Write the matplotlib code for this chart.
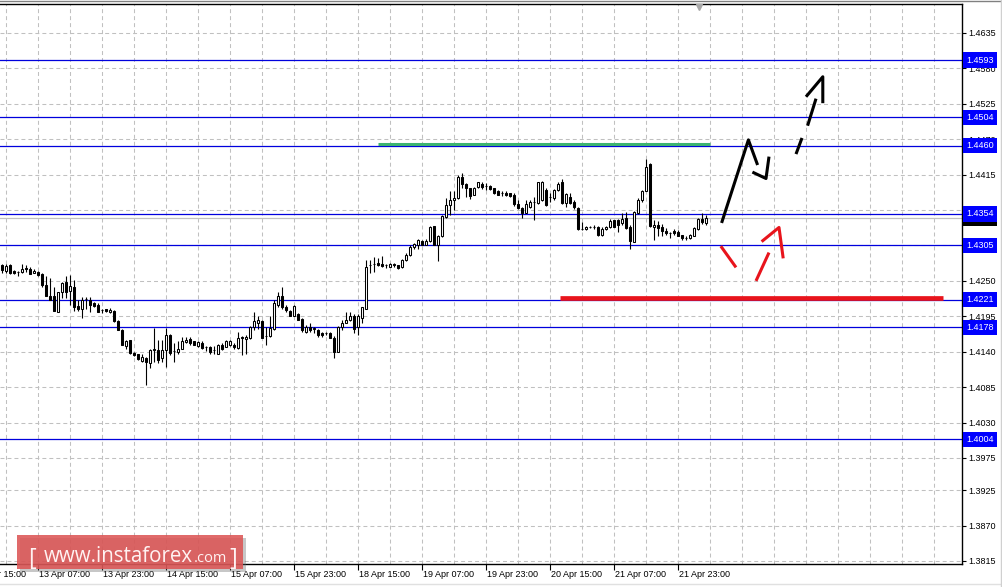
import numpy as np
import matplotlib
matplotlib.use('Agg')
import matplotlib.pyplot as plt
from matplotlib.patches import FancyBboxPatch
from matplotlib.transforms import IdentityTransform, blended_transform_factory

plt.rcParams['font.family'] = ['Liberation Sans', 'DejaVu Sans']

# H1 candles (bar index 0 = 12 Apr 22:00)
opens = [1.4275, 1.4266, 1.4275, 1.4265, 1.4264, 1.4264, 1.4270, 1.4268, 1.4262, 1.4264,
         1.4260, 1.4244, 1.4227, 1.4226, 1.4202, 1.4232, 1.4248, 1.4235, 1.4240, 1.4211,
         1.4207, 1.4222, 1.4221, 1.4215, 1.4212, 1.4205, 1.4206, 1.4201, 1.4204, 1.4188,
         1.4174, 1.4149, 1.4158, 1.4138, 1.4136, 1.4126, 1.4131, 1.4123, 1.4143, 1.4143,
         1.4131, 1.4142, 1.4166, 1.4141, 1.4139, 1.4145, 1.4155, 1.4159, 1.4156, 1.4149,
         1.4153, 1.4148, 1.4147, 1.4142, 1.4137, 1.4151, 1.4148, 1.4150, 1.4151, 1.4146,
         1.4163, 1.4159, 1.4161, 1.4179, 1.4184, 1.4188, 1.4164, 1.4165, 1.4176, 1.4213,
         1.4227, 1.4210, 1.4203, 1.4196, 1.4199, 1.4191, 1.4171, 1.4179, 1.4176, 1.4174,
         1.4169, 1.4169, 1.4169, 1.4162, 1.4140, 1.4179, 1.4185, 1.4189, 1.4195, 1.4179,
         1.4192, 1.4207, 1.4275, 1.4276, 1.4278, 1.4277, 1.4274, 1.4272, 1.4276, 1.4274,
         1.4271, 1.4283, 1.4290, 1.4302, 1.4306, 1.4312, 1.4306, 1.4312, 1.4335, 1.4306,
         1.4319, 1.4350, 1.4368, 1.4375, 1.4378, 1.4412, 1.4401, 1.4394, 1.4384, 1.4396,
         1.4400, 1.4397, 1.4397, 1.4394, 1.4389, 1.4386, 1.4387, 1.4386, 1.4383, 1.4369,
         1.4363, 1.4356, 1.4365, 1.4372, 1.4371, 1.4375, 1.4391, 1.4380, 1.4378, 1.4391,
         1.4404, 1.4371, 1.4381, 1.4373, 1.4363, 1.4331, 1.4330, 1.4333, 1.4333, 1.4334,
         1.4321, 1.4330, 1.4334, 1.4344, 1.4345, 1.4340, 1.4347, 1.4333, 1.4311, 1.4356,
         1.4375, 1.4390, 1.4431, 1.4333, 1.4337, 1.4334, 1.4327, 1.4324, 1.4328, 1.4326,
         1.4321, 1.4317, 1.4316, 1.4320, 1.4330, 1.4346, 1.4340]
highs = [1.4276, 1.4276, 1.4276, 1.4267, 1.4265, 1.4277, 1.4275, 1.4272, 1.4268, 1.4265,
         1.4262, 1.4257, 1.4255, 1.4241, 1.4233, 1.4249, 1.4258, 1.4259, 1.4251, 1.4221,
         1.4225, 1.4225, 1.4225, 1.4217, 1.4216, 1.4206, 1.4207, 1.4208, 1.4205, 1.4189,
         1.4176, 1.4158, 1.4158, 1.4139, 1.4137, 1.4137, 1.4132, 1.4145, 1.4177, 1.4158,
         1.4158, 1.4177, 1.4168, 1.4153, 1.4156, 1.4163, 1.4163, 1.4163, 1.4157, 1.4157,
         1.4156, 1.4149, 1.4149, 1.4149, 1.4152, 1.4153, 1.4158, 1.4158, 1.4154, 1.4170,
         1.4165, 1.4166, 1.4180, 1.4202, 1.4195, 1.4189, 1.4179, 1.4195, 1.4220, 1.4233,
         1.4241, 1.4213, 1.4205, 1.4213, 1.4200, 1.4192, 1.4182, 1.4184, 1.4179, 1.4175,
         1.4171, 1.4170, 1.4171, 1.4164, 1.4180, 1.4190, 1.4202, 1.4202, 1.4198, 1.4198,
         1.4210, 1.4282, 1.4282, 1.4287, 1.4285, 1.4289, 1.4277, 1.4278, 1.4278, 1.4275,
         1.4284, 1.4293, 1.4306, 1.4309, 1.4315, 1.4314, 1.4315, 1.4335, 1.4335, 1.4321,
         1.4352, 1.4378, 1.4389, 1.4389, 1.4415, 1.4417, 1.4402, 1.4395, 1.4396, 1.4404,
         1.4404, 1.4402, 1.4399, 1.4395, 1.4391, 1.4389, 1.4389, 1.4387, 1.4386, 1.4376,
         1.4364, 1.4376, 1.4376, 1.4380, 1.4404, 1.4405, 1.4394, 1.4386, 1.4393, 1.4403,
         1.4408, 1.4387, 1.4386, 1.4375, 1.4364, 1.4342, 1.4335, 1.4335, 1.4337, 1.4335,
         1.4333, 1.4335, 1.4346, 1.4345, 1.4346, 1.4355, 1.4357, 1.4337, 1.4359, 1.4378,
         1.4391, 1.4439, 1.4433, 1.4344, 1.4343, 1.4339, 1.4332, 1.4326, 1.4330, 1.4329,
         1.4322, 1.4320, 1.4323, 1.4333, 1.4347, 1.4355, 1.4352]
lows = [1.4262, 1.4262, 1.4260, 1.4260, 1.4258, 1.4262, 1.4264, 1.4260, 1.4262, 1.4258,
        1.4241, 1.4226, 1.4220, 1.4204, 1.4201, 1.4224, 1.4223, 1.4213, 1.4204, 1.4204,
        1.4192, 1.4207, 1.4201, 1.4210, 1.4202, 1.4200, 1.4202, 1.4200, 1.4186, 1.4173,
        1.4150, 1.4145, 1.4137, 1.4134, 1.4127, 1.4124, 1.4088, 1.4114, 1.4124, 1.4122,
        1.4124, 1.4117, 1.4135, 1.4124, 1.4137, 1.4145, 1.4153, 1.4151, 1.4150, 1.4148,
        1.4145, 1.4141, 1.4137, 1.4136, 1.4137, 1.4143, 1.4147, 1.4149, 1.4145, 1.4145,
        1.4135, 1.4137, 1.4160, 1.4174, 1.4176, 1.4161, 1.4151, 1.4163, 1.4174, 1.4210,
        1.4207, 1.4202, 1.4195, 1.4195, 1.4189, 1.4171, 1.4169, 1.4171, 1.4169, 1.4163,
        1.4163, 1.4166, 1.4161, 1.4130, 1.4139, 1.4174, 1.4184, 1.4187, 1.4169, 1.4166,
        1.4184, 1.4206, 1.4262, 1.4264, 1.4273, 1.4272, 1.4270, 1.4271, 1.4272, 1.4269,
        1.4270, 1.4281, 1.4289, 1.4299, 1.4299, 1.4305, 1.4305, 1.4311, 1.4305, 1.4281,
        1.4318, 1.4347, 1.4352, 1.4360, 1.4377, 1.4394, 1.4381, 1.4377, 1.4383, 1.4394,
        1.4392, 1.4391, 1.4391, 1.4385, 1.4383, 1.4382, 1.4382, 1.4381, 1.4367, 1.4361,
        1.4347, 1.4355, 1.4363, 1.4344, 1.4370, 1.4374, 1.4366, 1.4373, 1.4376, 1.4389,
        1.4370, 1.4365, 1.4370, 1.4362, 1.4329, 1.4329, 1.4329, 1.4332, 1.4330, 1.4320,
        1.4320, 1.4329, 1.4332, 1.4333, 1.4326, 1.4337, 1.4331, 1.4299, 1.4310, 1.4354,
        1.4373, 1.4389, 1.4334, 1.4314, 1.4319, 1.4319, 1.4321, 1.4317, 1.4321, 1.4319,
        1.4314, 1.4313, 1.4315, 1.4320, 1.4329, 1.4339, 1.4337]
closes = [1.4267, 1.4273, 1.4262, 1.4263, 1.4264, 1.4268, 1.4268, 1.4260, 1.4265, 1.4259,
          1.4243, 1.4227, 1.4221, 1.4204, 1.4232, 1.4246, 1.4233, 1.4242, 1.4210, 1.4207,
          1.4221, 1.4222, 1.4212, 1.4211, 1.4202, 1.4205, 1.4203, 1.4205, 1.4187, 1.4173,
          1.4151, 1.4157, 1.4138, 1.4135, 1.4128, 1.4132, 1.4124, 1.4143, 1.4144, 1.4127,
          1.4143, 1.4166, 1.4138, 1.4141, 1.4145, 1.4157, 1.4158, 1.4153, 1.4151, 1.4155,
          1.4146, 1.4148, 1.4139, 1.4142, 1.4150, 1.4144, 1.4156, 1.4156, 1.4148, 1.4161,
          1.4161, 1.4163, 1.4179, 1.4187, 1.4189, 1.4162, 1.4164, 1.4177, 1.4215, 1.4227,
          1.4209, 1.4205, 1.4196, 1.4211, 1.4190, 1.4174, 1.4178, 1.4173, 1.4176, 1.4166,
          1.4166, 1.4169, 1.4162, 1.4139, 1.4179, 1.4185, 1.4189, 1.4195, 1.4175, 1.4195,
          1.4209, 1.4272, 1.4275, 1.4276, 1.4275, 1.4273, 1.4274, 1.4277, 1.4274, 1.4270,
          1.4283, 1.4290, 1.4303, 1.4307, 1.4314, 1.4306, 1.4312, 1.4333, 1.4306, 1.4320,
          1.4351, 1.4368, 1.4376, 1.4378, 1.4412, 1.4400, 1.4394, 1.4382, 1.4395, 1.4403,
          1.4396, 1.4397, 1.4392, 1.4386, 1.4384, 1.4386, 1.4383, 1.4382, 1.4369, 1.4363,
          1.4356, 1.4369, 1.4373, 1.4372, 1.4403, 1.4404, 1.4368, 1.4380, 1.4391, 1.4400,
          1.4371, 1.4385, 1.4371, 1.4364, 1.4330, 1.4331, 1.4334, 1.4333, 1.4333, 1.4321,
          1.4331, 1.4334, 1.4343, 1.4334, 1.4337, 1.4346, 1.4332, 1.4312, 1.4357, 1.4376,
          1.4390, 1.4427, 1.4335, 1.4337, 1.4332, 1.4327, 1.4324, 1.4324, 1.4324, 1.4320,
          1.4317, 1.4317, 1.4321, 1.4332, 1.4346, 1.4341, 1.4347]

# price scale
price_ticks = [1.3815, 1.3870, 1.3925, 1.3975, 1.4030, 1.4085, 1.4140, 1.4195,
               1.4250, 1.4305, 1.4360, 1.4415, 1.4470, 1.4525, 1.4580, 1.4635]
levels = [1.4593, 1.4504, 1.4460, 1.4354, 1.4305, 1.4221, 1.4178, 1.4004]
current_price = 1.4347

# time axis (bar index -> label)
time_bars = [-7, 9, 25, 41, 57, 73, 89, 105, 121, 137, 153, 169]
time_labels = ['12 Apr 15:00', '13 Apr 07:00', '13 Apr 23:00', '14 Apr 15:00',
               '15 Apr 07:00', '15 Apr 23:00', '18 Apr 15:00', '19 Apr 07:00',
               '19 Apr 23:00', '20 Apr 15:00', '21 Apr 07:00', '21 Apr 23:00']

# drawn annotations (bar index, price)
green_x = [94, 177]
green_y = 1.4462
red_x = [139.5, 235.25]
red_y = 1.4224
black_strokes = [([179.9, 186.6, 188.9], [1.4340, 1.4469, 1.4430]),
                 ([187.6, 191.0, 191.75], [1.4419, 1.4409, 1.4443]),
                 ([198.5, 200.0], [1.4447, 1.4472]),
                 ([201.4, 203.5], [1.4491, 1.4533]),
                 ([201.0, 205.2, 205.2], [1.4536, 1.4567, 1.4526])]
red_strokes = [([179.7, 183.5], [1.4304, 1.4271]),
               ([188.5, 191.75], [1.4250, 1.4294]),
               ([189.9, 194.25, 195.3], [1.4311, 1.4333, 1.4285])]

W, H = 1002, 587
fig = plt.figure(figsize=(W / 100, H / 100), dpi=100)
fig.patch.set_facecolor('white')
ax = fig.add_axes([0, (H - 564) / H, 961.5 / W, (564 - 3.5) / H])
ax.set_xlim(-0.5, 239.875)
ax.set_ylim(1.381034, 1.468081)

# grid
ax.set_axisbelow(True)
ax.set_xticks(time_bars[1:])
ax.set_xticklabels([])
ax.set_xticks(np.arange(1, 240, 8), minor=True)
ax.tick_params(axis='x', which='major', length=4, width=0.8, direction='out')
ax.tick_params(axis='x', which='minor', length=0)
dash = (0, (3.8, 2.9))
ax.grid(True, which='both', axis='x', color='#c0c0c0', linestyle=dash, linewidth=0.75)
ax.grid(True, which='major', axis='y', color='#c0c0c0', linestyle=dash, linewidth=0.75)

ax.yaxis.tick_right()
ax.set_yticks(price_ticks)
ax.set_yticklabels([f'{v:.4f}' for v in price_ticks])
ax.tick_params(axis='y', length=3, width=0.8, pad=2, labelsize=6.5, colors='black')

for side in ['top', 'right', 'bottom']:
    ax.spines[side].set_color('black')
    ax.spines[side].set_linewidth(1.0)
ax.spines['left'].set_visible(False)

# horizontal levels
for lv in levels:
    ax.axhline(lv, color='#0000dd', linewidth=0.9, zorder=2)
ax.axhline(current_price, color='#c0c0c0', linewidth=0.9, zorder=1.5)

# candles
o = np.array(opens)
h = np.array(highs)
l = np.array(lows)
c = np.array(closes)
idx = np.arange(len(o))
up = c >= o
ax.vlines(idx, l, h, color='black', linewidth=0.8, zorder=3)
body = np.maximum(np.abs(c - o), 0.00001)
ax.bar(idx, body, bottom=np.minimum(o, c), width=0.5,
       color=np.where(up, 'white', 'black'), edgecolor='black', linewidth=0.75, zorder=4)

# drawn support / resistance and arrows
ax.hlines(green_y, green_x[0], green_x[1], color='#3cb371', linewidth=2.2, zorder=5)
ax.hlines(red_y, red_x[0], red_x[1], color='#e8141c', linewidth=3.4, zorder=5)
for xs, ys in black_strokes:
    ax.plot(xs, ys, color='black', linewidth=2.2, solid_capstyle='butt', zorder=6)
for xs, ys in red_strokes:
    ax.plot(xs, ys, color='#e8141c', linewidth=2.2, solid_capstyle='butt', zorder=6)

# chart shift marker
ax.plot([0.727], [0.993], marker='v', markersize=5, color='#a8a8a8',
        transform=ax.transAxes, clip_on=False, zorder=7)

# time labels
xtrans = blended_transform_factory(ax.transData, ax.transAxes)
for pos, lbl in zip(time_bars, time_labels):
    ax.annotate(lbl, xy=(pos, 0), xycoords=xtrans, xytext=(1, -6),
                textcoords='offset pixels', ha='left', va='top', fontsize=6.5,
                color='black', annotation_clip=False)

# price labels on the right
ytrans = blended_transform_factory(ax.transAxes, ax.transData)


def price_box(val, fc):
    ax.annotate(f'{val:.4f}', xy=(1, val), xycoords=ytrans, xytext=(5, 0),
                textcoords='offset pixels', ha='left', va='center', fontsize=6.5,
                color='white', annotation_clip=False, zorder=10,
                bbox=dict(boxstyle='square,pad=0.35', fc=fc, ec='none'))


price_box(current_price, 'black')
for lv in levels:
    price_box(lv, '#0000ff')

# frame lines of the terminal window
pix = IdentityTransform()
fig.add_artist(plt.Line2D([0, W], [H - 0.5, H - 0.5], color='#808080', linewidth=1, transform=pix))
fig.add_artist(plt.Line2D([0, W], [3, 3], color='#e0e0e0', linewidth=1, transform=pix))
fig.add_artist(plt.Line2D([1000.5, 1000.5], [0, H], color='#d0d0d0', linewidth=1, transform=pix))

# watermark
fig.add_artist(FancyBboxPatch((20, 15), 226, 34, boxstyle='square,pad=0', transform=pix,
                              fc='#606060', ec='none', alpha=0.35, zorder=20))
fig.add_artist(FancyBboxPatch((17, 18), 226, 34, boxstyle='square,pad=0', transform=pix,
                              fc='#dc5555', ec='none', alpha=0.88, zorder=21))
wm = dict(transform=pix, color='#fff2f2', va='baseline', ha='left', zorder=22, family='Open Sans')
fig.text(28, 22, '[', fontsize=17, **wm)
fig.text(44, 25, 'www.instaforex', fontsize=14.8, **wm)
fig.text(194, 25, '.com', fontsize=10.5, **wm)
fig.text(229, 22, ']', fontsize=17, **wm)

fig.savefig('out.png', dpi=100, facecolor='white')
